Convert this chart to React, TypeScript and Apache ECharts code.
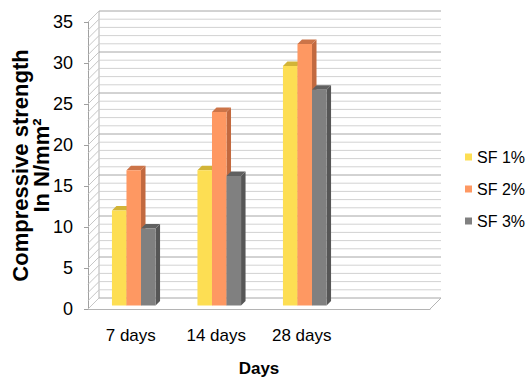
import React, { useEffect, useRef } from 'react';
import * as echarts from 'echarts';

// ---- data ----
const categories = ['7 days', '14 days', '28 days', ''];
const seriesNames = ['SF 1%', 'SF 2%', 'SF 3%'];
const sf1 = [11.6, 16.5, 29.2];
const sf2 = [16.5, 23.6, 31.9];
const sf3 = [9.4, 15.8, 26.3];
const yMin = 0;
const yMax = 35;
const yInterval = 5;
// back-wall gridline levels (one per unit)
const wallLevels = Array.from({ length: yMax - yMin + 1 }, (_, i) => yMin + i);

// ---- style ----
const frontColors = ['#FDDE53', '#FE9862', '#808080'];
const sideColors = ['#C9AC2E', '#C2693F', '#565656'];
const topColors = ['#D2B437', '#CC7448', '#606060'];
const DEPTH = 11;
const BAR_SHIFT_X = 3;
const BAR_SHIFT_Y = -3.5;
const BAR_DEPTH = 4.5;
const SANS = "'Liberation Sans', Arial, sans-serif";

function barRender(idx: number) {
  return (params: any, api: any) => {
    const cat = api.value(0);
    const v = api.value(1);
    const base = api.coord([cat, 0]);
    const tp = api.coord([cat, v]);
    const band = api.size([1, 0])[0];
    const bw = band * 0.17;
    const x0 = base[0] - 1.5 * bw + idx * bw + BAR_SHIFT_X;
    const yb = base[1] + BAR_SHIFT_Y;
    const yt = tp[1] + BAR_SHIFT_Y;
    const d = BAR_DEPTH;
    return {
      type: 'group',
      children: [
        {
          type: 'polygon',
          shape: { points: [[x0 + bw, yt], [x0 + bw + d, yt - d], [x0 + bw + d, yb - d], [x0 + bw, yb]] },
          style: { fill: sideColors[idx] },
        },
        {
          type: 'polygon',
          shape: { points: [[x0, yt], [x0 + d, yt - d], [x0 + bw + d, yt - d], [x0 + bw, yt]] },
          style: { fill: topColors[idx] },
        },
        {
          type: 'rect',
          shape: { x: x0, y: yt, width: bw, height: yb - yt },
          style: { fill: frontColors[idx] },
        },
      ],
    };
  };
}

function frameRender(params: any, api: any) {
  const v = api.value(1);
  const cs = params.coordSys;
  const y = api.coord([0, v])[1];
  const major = v % yInterval === 0;
  const children: any[] = [
    {
      type: 'line',
      shape: { x1: cs.x + DEPTH, y1: y - DEPTH, x2: cs.x + cs.width + DEPTH, y2: y - DEPTH },
      style: { stroke: major ? '#a6a6a6' : '#d2d2d2', lineWidth: 1 },
    },
    {
      type: 'line',
      shape: { x1: cs.x, y1: y, x2: cs.x + DEPTH, y2: y - DEPTH },
      style: { stroke: '#c6c6c6', lineWidth: 1 },
    },
  ];
  if (v === yMin) {
    children.push({
      type: 'line',
      shape: { x1: cs.x + DEPTH, y1: cs.y - DEPTH, x2: cs.x + DEPTH, y2: y - DEPTH },
      style: { stroke: '#b4b4b4', lineWidth: 1 },
    });
    children.push({
      type: 'line',
      shape: { x1: cs.x + cs.width, y1: y, x2: cs.x + cs.width + DEPTH, y2: y - DEPTH },
      style: { stroke: '#b4b4b4', lineWidth: 1 },
    });
  }
  return { type: 'group', children };
}

export default function App() {
  const ref = useRef<HTMLDivElement>(null);
  useEffect(() => {
    if (!ref.current) return;
    const chart = echarts.init(ref.current, null, { renderer: 'svg' });
    const seriesData = [sf1, sf2, sf3];
    chart.setOption({
      animation: false,
      backgroundColor: '#ffffff',
      grid: { left: 88, right: 98, top: 22, bottom: 69, containLabel: false, outerBoundsMode: 'none' },
      legend: {
        data: seriesNames,
        orient: 'vertical',
        left: 465,
        top: 149,
        padding: 0,
        itemGap: 16,
        itemWidth: 7,
        itemHeight: 7,
        icon: 'rect',
        textStyle: { fontSize: 16, fontFamily: SANS, color: '#000', lineHeight: 16 },
      },
      xAxis: {
        type: 'category',
        data: categories,
        name: 'Days',
        nameLocation: 'middle',
        nameGap: 51,
        nameMoveOverlap: false,
        nameTextStyle: { fontSize: 17, fontWeight: 'bold', fontFamily: SANS, color: '#000' },
        axisLine: { show: true, lineStyle: { color: '#b4b4b4' } },
        axisTick: { show: false },
        axisLabel: { fontSize: 17, fontFamily: SANS, color: '#000', margin: 18, interval: 0 },
        splitLine: { show: false },
      },
      yAxis: {
        type: 'value',
        min: yMin,
        max: yMax,
        interval: yInterval,
        name: 'Compressive strength\nIn N/mm²',
        nameLocation: 'middle',
        nameGap: 36,
        nameMoveOverlap: false,
        nameTextStyle: { fontSize: 22, fontWeight: 'bold', fontFamily: SANS, color: '#000', lineHeight: 21 },
        axisLine: { show: true, lineStyle: { color: '#a0a0a0' } },
        axisTick: { show: true, length: 4, lineStyle: { color: '#a0a0a0' } },
        axisLabel: { fontSize: 18, fontFamily: SANS, color: '#000', margin: 15 },
        splitLine: { show: false },
      },
      series: [
        {
          type: 'custom',
          name: 'frame',
          z: 1,
          silent: true,
          clip: false,
          renderItem: frameRender,
          data: wallLevels.map((v) => [0, v]),
        },
        ...seriesNames.map((name, idx) => ({
          type: 'custom',
          name,
          z: 2,
          clip: false,
          itemStyle: { color: frontColors[idx] },
          renderItem: barRender(idx),
          data: seriesData[idx].map((v, i) => [i, v]),
        })),
      ],
    });
    return () => chart.dispose();
  }, []);
  return (
    <div
      ref={ref}
      style={{ position: 'fixed', left: 0, top: 0, width: 528, height: 378, background: '#fff' }}
    />
  );
}
